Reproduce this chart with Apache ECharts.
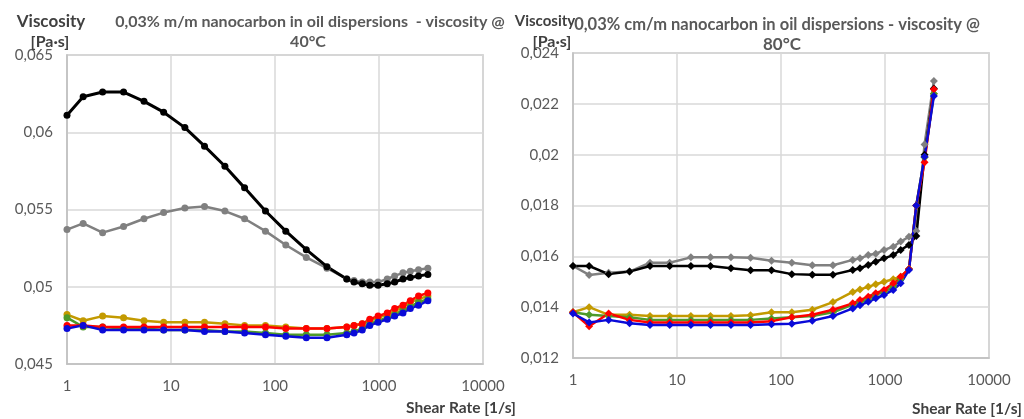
<!DOCTYPE html>
<html>
<head>
<meta charset="utf-8">
<script src="https://cdn.jsdelivr.net/npm/echarts/dist/echarts.min.js"></script>
<style>
html,body{margin:0;padding:0;background:#fff;}
#chart{width:1024px;height:419px;}
</style>
</head>
<body>
<div id="chart"></div>
<script>
// Shear rate [1/s] (shared by all series)
var shearRate = [1, 1.43, 2.2, 3.5, 5.5, 8.5, 13.6, 21, 33, 51, 81, 127, 200, 316, 490, 575, 690, 815, 980, 1200, 1415, 1700, 2000, 2400, 2950];

// 40 °C viscosity [Pa·s]
var black40 = [0.0611, 0.0623, 0.0626, 0.0626, 0.0620, 0.0613, 0.0603, 0.0591, 0.0578, 0.0564, 0.0549, 0.0536, 0.0524, 0.0513, 0.0505, 0.0503, 0.0502, 0.0501, 0.0501, 0.0502, 0.0503, 0.0505, 0.0506, 0.0507, 0.0508];
var gray40  = [0.0537, 0.0541, 0.0535, 0.0539, 0.0544, 0.0548, 0.0551, 0.0552, 0.0549, 0.0544, 0.0536, 0.0527, 0.0519, 0.0512, 0.0505, 0.0504, 0.0503, 0.0503, 0.0503, 0.0505, 0.0507, 0.0509, 0.0510, 0.0511, 0.0512];
var gold40  = [0.0482, 0.0478, 0.0481, 0.0480, 0.0478, 0.0477, 0.0477, 0.0477, 0.0476, 0.0475, 0.0475, 0.0474, 0.0473, 0.0473, 0.0474, 0.0475, 0.0476, 0.0478, 0.0480, 0.0482, 0.0484, 0.0487, 0.0490, 0.0492, 0.0494];
var green40 = [0.0480, 0.0474, 0.0474, 0.0473, 0.0473, 0.0472, 0.0472, 0.0472, 0.0471, 0.0471, 0.0470, 0.0469, 0.0469, 0.0469, 0.0470, 0.0471, 0.0473, 0.0476, 0.0478, 0.0480, 0.0482, 0.0485, 0.0487, 0.0490, 0.0492];
var red40   = [0.0475, 0.0475, 0.0474, 0.0474, 0.0474, 0.0474, 0.0474, 0.0474, 0.0474, 0.0474, 0.0474, 0.0473, 0.0473, 0.0473, 0.0474, 0.0475, 0.0476, 0.0479, 0.0481, 0.0483, 0.0486, 0.0488, 0.0491, 0.0494, 0.0496];
var blue40  = [0.0473, 0.0475, 0.0472, 0.0472, 0.0472, 0.0472, 0.0472, 0.0471, 0.0471, 0.0470, 0.0469, 0.0468, 0.0467, 0.0467, 0.0469, 0.0470, 0.0472, 0.0475, 0.0477, 0.0479, 0.0481, 0.0483, 0.0486, 0.0488, 0.0491];

// 80 °C viscosity [Pa·s]
var black80 = [0.01562, 0.01562, 0.01530, 0.01540, 0.01562, 0.01562, 0.01562, 0.01562, 0.01553, 0.01545, 0.01545, 0.01530, 0.01528, 0.01528, 0.01546, 0.01553, 0.01566, 0.01579, 0.01592, 0.01605, 0.01625, 0.01645, 0.0168, 0.0200, 0.0226];
var gray80  = [0.01562, 0.01527, 0.01535, 0.01540, 0.01575, 0.01575, 0.01596, 0.01596, 0.01596, 0.01594, 0.01583, 0.01575, 0.01565, 0.01565, 0.01586, 0.01592, 0.01605, 0.01610, 0.01625, 0.01638, 0.01658, 0.01677, 0.0170, 0.0204, 0.0229];
var gold80  = [0.0138, 0.0140, 0.0137, 0.0137, 0.01365, 0.01365, 0.01365, 0.01365, 0.01365, 0.01368, 0.0138, 0.0138, 0.0139, 0.0142, 0.0146, 0.0147, 0.0148, 0.0149, 0.0150, 0.0151, 0.0152, 0.0155, 0.0180, 0.0199, 0.0224];
var green80 = [0.0138, 0.0137, 0.01365, 0.0136, 0.0135, 0.0135, 0.0135, 0.0135, 0.0135, 0.0135, 0.01355, 0.0136, 0.01365, 0.0138, 0.0141, 0.0142, 0.0143, 0.0145, 0.0146, 0.0148, 0.0151, 0.0155, 0.0180, 0.0199, 0.0224];
var red80   = [0.0138, 0.01325, 0.01375, 0.0135, 0.0134, 0.0134, 0.0134, 0.0134, 0.0134, 0.0134, 0.01345, 0.0136, 0.0137, 0.0139, 0.01415, 0.01428, 0.01441, 0.01455, 0.01468, 0.01494, 0.0152, 0.0155, 0.0180, 0.0197, 0.02257];
var blue80  = [0.01375, 0.0134, 0.0135, 0.01337, 0.0133, 0.0133, 0.0133, 0.0133, 0.0133, 0.0133, 0.01333, 0.01335, 0.01347, 0.01365, 0.01395, 0.01408, 0.01421, 0.01435, 0.01448, 0.01468, 0.01494, 0.01546, 0.0180, 0.01992, 0.02231];

var titleLeft1 = '0,03% m/m nanocarbon in oil dispersions  - viscosity @';
var titleLeft2 = '40°C';
var titleRight1 = '0,03% cm/m nanocarbon in oil dispersions - viscosity @';
var titleRight2 = '80°C';
var yName1 = 'Viscosity';
var yName2 = '[Pa·s]';
var xName = 'Shear Rate [1/s]';

var FONT = 'Lato';
var TXT = '#595959';

function pairs(arr) { return shearRate.map(function (x, i) { return [x, arr[i]]; }); }
function mk(data, color, idx, symbol, width) {
  return {
    type: 'line', xAxisIndex: idx, yAxisIndex: idx,
    data: pairs(data), symbol: symbol, symbolSize: symbol === 'diamond' ? 8 : 7,
    showSymbol: true, animation: false,
    lineStyle: { color: color, width: width || 2.5 },
    itemStyle: { color: color, borderWidth: 0 }
  };
}
function yFmt(v) { return parseFloat(v.toFixed(4)).toString().replace('.', ','); }
function xFmt(v) { return String(Math.round(v)); }

var colors = { black: '#000000', gray: '#808080', gold: '#c39a00', green: '#4e9a2a', red: '#ff0000', blue: '#0a0ad8' };

function xAx(idx) {
  return {
    type: 'log', logBase: 10, min: 1, max: 10000, gridIndex: idx,
    axisLine: { show: true, lineStyle: { color: '#bfbfbf', width: 1.5 } },
    axisTick: { show: false },
    splitLine: { show: true, lineStyle: { color: '#d9d9d9', width: 1.5 } },
    minorTick: { show: false }, minorSplitLine: { show: false },
    axisLabel: { color: TXT, fontFamily: FONT, fontSize: 15, margin: 15, formatter: xFmt }
  };
}
function yAx(idx, min, max, interval) {
  return {
    type: 'value', min: min, max: max, interval: interval, gridIndex: idx,
    axisLine: { show: true, lineStyle: { color: '#bfbfbf', width: 1.5 } },
    axisTick: { show: false },
    splitLine: { show: true, lineStyle: { color: '#d9d9d9', width: 1.5 } },
    axisLabel: { color: TXT, fontFamily: FONT, fontSize: 15, margin: 14, formatter: yFmt }
  };
}

var chart = echarts.init(document.getElementById('chart'), null, { renderer: 'canvas' });
function ts(size, color) { return { color: color, fontFamily: FONT, fontSize: size, fontWeight: 'bold' }; }
chart.setOption({
  backgroundColor: '#ffffff',
  title: [
    { text: titleLeft1, left: 305, top: 9, textAlign: 'center', textStyle: ts(16, TXT) },
    { text: titleLeft2, left: 303, top: 29, textAlign: 'center', textStyle: ts(16, TXT) },
    { text: titleRight1, left: 772, top: 11, textAlign: 'center', textStyle: ts(16.5, TXT) },
    { text: titleRight2, left: 777, top: 31, textAlign: 'center', textStyle: ts(17, TXT) },
    { text: yName1, left: 46, top: 8, textAlign: 'center', textStyle: ts(17, '#404040') },
    { text: yName2, left: 45, top: 29, textAlign: 'center', textStyle: ts(16, '#404040') },
    { text: yName1, left: 540, top: 9, textAlign: 'center', textStyle: ts(15, '#404040') },
    { text: yName2, left: 547, top: 29, textAlign: 'center', textStyle: ts(16, '#404040') },
    { text: xName, left: 456, top: 395, textAlign: 'center', textStyle: ts(15.5, '#404040') },
    { text: xName, left: 962, top: 396, textAlign: 'center', textStyle: ts(15.5, '#404040') }
  ],
  grid: [
    { left: 67, top: 55, width: 416, height: 309, show: true, borderColor: '#bfbfbf', borderWidth: 1.5, backgroundColor: 'transparent' },
    { left: 573, top: 53, width: 416, height: 305, show: true, borderColor: '#bfbfbf', borderWidth: 1.5, backgroundColor: 'transparent' }
  ],
  xAxis: [xAx(0), xAx(1)],
  yAxis: [yAx(0, 0.045, 0.065, 0.005), yAx(1, 0.012, 0.024, 0.002)],
  series: [
    mk(gray40, colors.gray, 0, 'circle'),
    mk(black40, colors.black, 0, 'circle', 3),
    mk(gold40, colors.gold, 0, 'circle'),
    mk(green40, colors.green, 0, 'circle'),
    mk(red40, colors.red, 0, 'circle'),
    mk(blue40, colors.blue, 0, 'circle'),
    mk(gray80, colors.gray, 1, 'diamond'),
    mk(black80, colors.black, 1, 'diamond'),
    mk(gold80, colors.gold, 1, 'diamond'),
    mk(green80, colors.green, 1, 'diamond'),
    mk(red80, colors.red, 1, 'diamond'),
    mk(blue80, colors.blue, 1, 'diamond')
  ]
});
</script>
</body>
</html>
